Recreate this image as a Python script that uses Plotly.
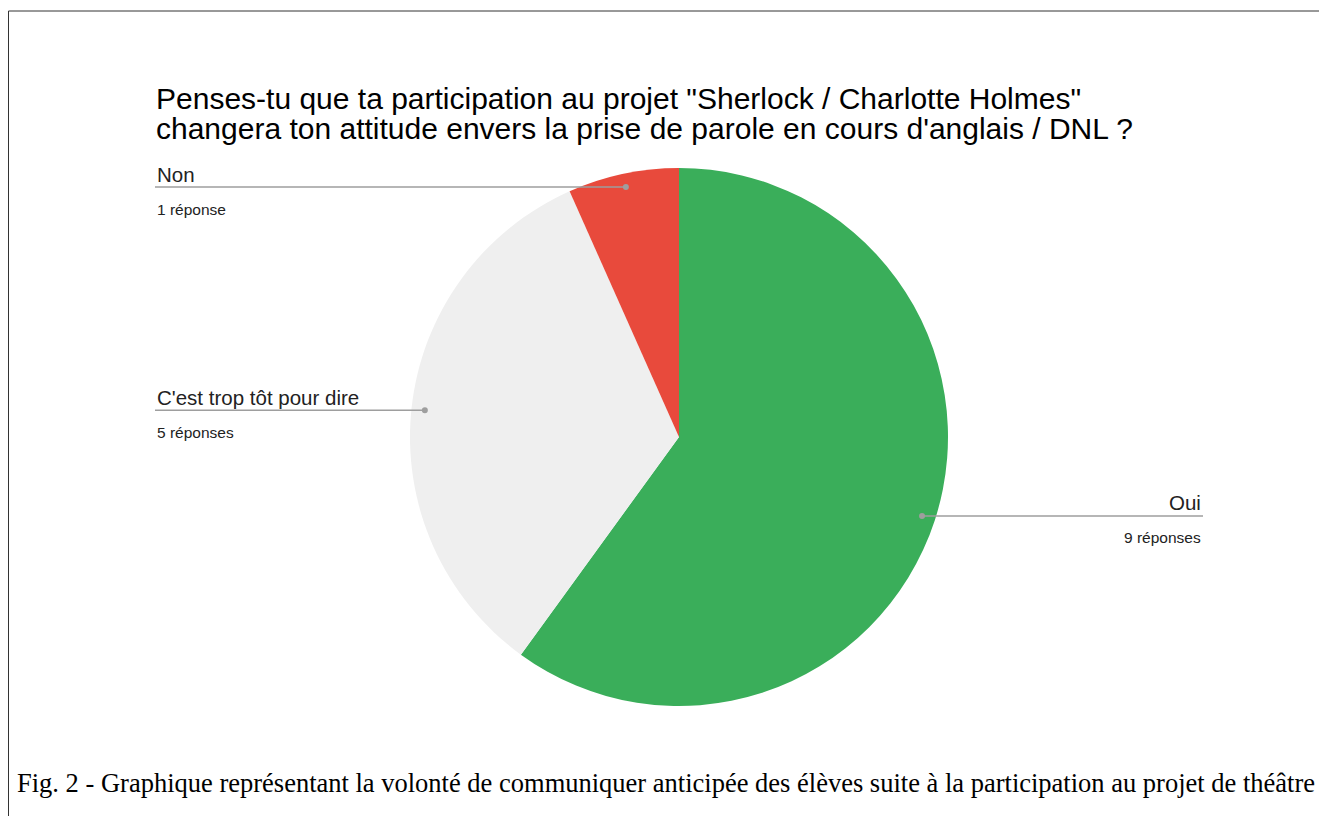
import math
import plotly.graph_objects as go

# ---- data ----
labels = ["Oui", "C'est trop tôt pour dire", "Non"]
values = [9, 5, 1]
counts_text = ["9 réponses", "5 réponses", "1 réponse"]
colors = ["#3aae5a", "#efefef", "#e84a3c"]
title_lines = [
    "Penses-tu que ta participation au projet \"Sherlock / Charlotte Holmes\"",
    "changera ton attitude envers la prise de parole en cours d'anglais / DNL ?",
]
caption = ("Fig. 2 - Graphique représentant la volonté de communiquer anticipée "
           "des élèves suite à la participation au projet de théâtre")

# page body adds an 8px margin; figure is sized so it fits the window
OFF = 8
W, H = 1327 - OFF, 816 - OFF
# pie geometry in (window) pixels
cx, cy, R = 679, 437, 269
left_x, right_x = 155, 1203


def px(x):
    return (x - OFF) / W


def py(y):
    return 1 - (y - OFF) / H


fig = go.Figure()
fig.add_trace(go.Pie(
    labels=labels, values=values, sort=False, direction="clockwise", rotation=0,
    marker=dict(colors=colors, line=dict(width=0)),
    textinfo="none", hoverinfo="label+value", showlegend=False,
    domain=dict(x=[px(cx - R), px(cx + R)], y=[py(cy + R), py(cy - R)]),
))

shapes = []
annotations = []

# border
shapes.append(dict(type="line", xref="paper", yref="paper", x0=px(8.5), x1=1.0,
                   y0=py(11), y1=py(11), line=dict(color="#333333", width=1)))
shapes.append(dict(type="line", xref="paper", yref="paper", x0=px(8.5), x1=px(8.5),
                   y0=py(11), y1=0, line=dict(color="#333333", width=1)))

total = sum(values)
acc = 0
for lab, v, ct in zip(labels, values, counts_text):
    mid = (acc + v / 2) / total * 360
    acc += v
    a = math.radians(mid)
    dx = cx + 0.95 * R * math.sin(a)
    dy = cy - 0.95 * R * math.cos(a)
    right = math.sin(a) > 0
    end_x = right_x if right else left_x
    shapes.append(dict(type="line", xref="paper", yref="paper",
                       x0=px(dx), y0=py(dy), x1=px(end_x), y1=py(dy),
                       line=dict(color="#9e9e9e", width=1.5)))
    shapes.append(dict(type="circle", xref="paper", yref="paper",
                       x0=px(dx - 3), x1=px(dx + 3), y0=py(dy + 3), y1=py(dy - 3),
                       fillcolor="#9e9e9e", line=dict(width=0)))
    xa = "right" if right else "left"
    annotations.append(dict(text=lab, xref="paper", yref="paper", x=px(end_x), y=py(dy - 13),
                            xanchor=xa, yanchor="middle", showarrow=False,
                            font=dict(family="Liberation Sans, Arial", size=20.5, color="#222222")))
    annotations.append(dict(text=ct, xref="paper", yref="paper", x=px(end_x), y=py(dy + 22),
                            xanchor=xa, yanchor="middle", showarrow=False,
                            font=dict(family="Liberation Sans, Arial", size=15.5, color="#222222")))

# title lines
for i, t in enumerate(title_lines):
    annotations.append(dict(text=t, xref="paper", yref="paper", x=px(154), y=py(99 + 29 * i),
                            xanchor="left", yanchor="middle", showarrow=False,
                            font=dict(family="Liberation Sans, Arial", size=30, color="#000000")))

# caption
annotations.append(dict(text=caption, xref="paper", yref="paper", x=px(15), y=py(783),
                        xanchor="left", yanchor="middle", showarrow=False,
                        font=dict(family="Liberation Serif, Times New Roman", size=26.5, color="#000000")))

fig.update_layout(
    width=W, height=H, margin=dict(l=0, r=0, t=0, b=0),
    paper_bgcolor="white", plot_bgcolor="white",
    shapes=shapes, annotations=annotations,
)
fig.write_html("out.html")
